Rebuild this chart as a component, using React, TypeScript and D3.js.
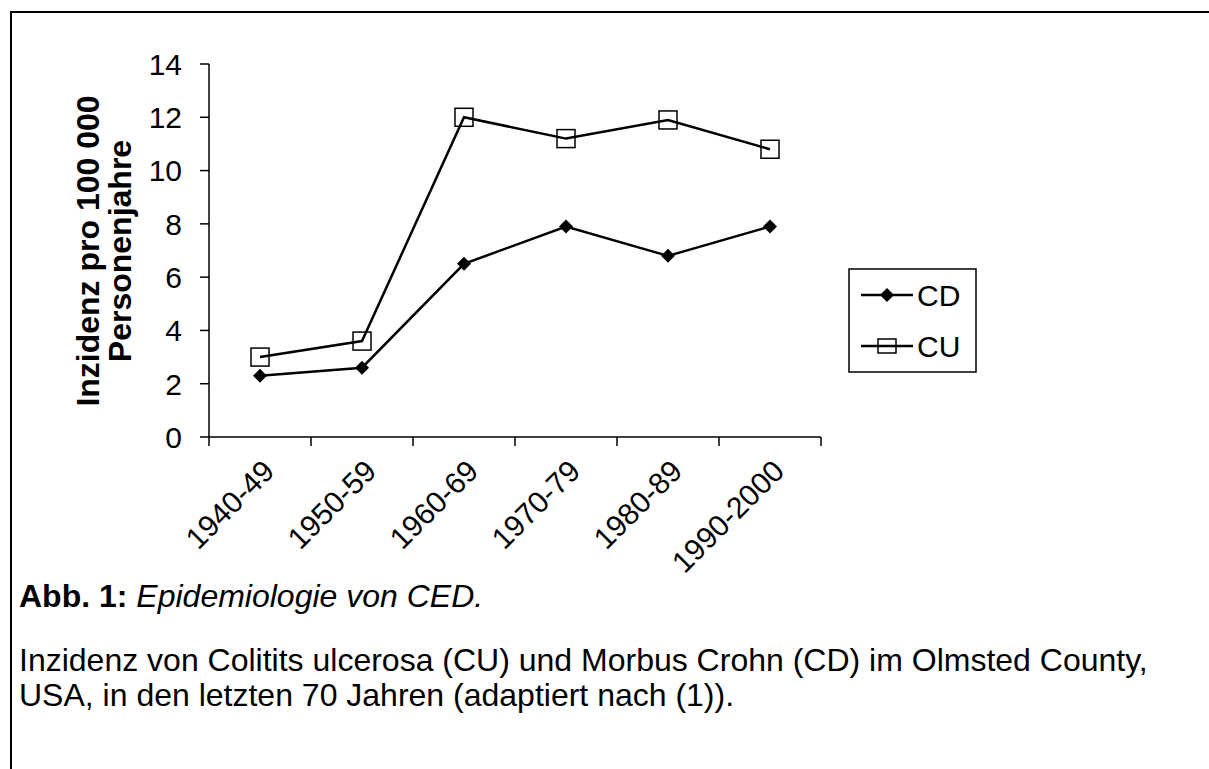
import React from "react";
import * as d3 from "d3";

const categories = ["1940-49", "1950-59", "1960-69", "1970-79", "1980-89", "1990-2000"];
const cdValues = [2.3, 2.6, 6.5, 7.9, 6.8, 7.9];
const cuValues = [3.0, 3.6, 12.0, 11.2, 11.9, 10.8];
const yTicks = [0, 2, 4, 6, 8, 10, 12, 14];
const seriesNames = ["CD", "CU"];

const W = 1209;
const H = 769;
const FONT = "Arial, 'Liberation Sans', sans-serif";

export default function App() {
  const x = d3.scaleBand<string>().domain(categories).range([209, 821]).padding(0);
  const y = d3.scaleLinear().domain([0, 14]).range([437, 64]);
  const cx = (c: string) => (x(c) as number) + x.bandwidth() / 2;

  const line = d3
    .line<number>()
    .x((_, i) => cx(categories[i]))
    .y((d) => y(d));

  const diamond = (px: number, py: number, r = 7) =>
    `M${px},${py - r}L${px + r},${py}L${px},${py + r}L${px - r},${py}Z`;

  const xTickPositions = categories.map((c) => x(c) as number).concat([821]);
  const sq = 18;

  return (
    <svg
      width={W}
      height={H}
      style={{ position: "absolute", left: 0, top: 0, background: "#fff" }}
      fontFamily={FONT}
    >
      {/* frame */}
      <path d={`M11,${H}L11,12L${W},12`} fill="none" stroke="#000" strokeWidth={2} />

      {/* y axis */}
      <line x1={209} x2={209} y1={y(14)} y2={y(0)} stroke="#000" strokeWidth={1.5} />
      {yTicks.map((t) => (
        <g key={t}>
          <line x1={200} x2={209} y1={y(t)} y2={y(t)} stroke="#000" strokeWidth={1.5} />
          <text x={182} y={y(t)} dy="0.36em" textAnchor="end" fontSize={30}>
            {t}
          </text>
        </g>
      ))}

      {/* x axis */}
      <line x1={209} x2={821} y1={y(0)} y2={y(0)} stroke="#000" strokeWidth={1.5} />
      {xTickPositions.map((p, i) => (
        <line key={i} x1={p} x2={p} y1={y(0)} y2={y(0) + 9} stroke="#000" strokeWidth={1.5} />
      ))}
      {categories.map((c) => (
        <text
          key={c}
          transform={`translate(${cx(c) + 16},${y(0) + 36}) rotate(-45)`}
          textAnchor="end"
          fontSize={30}
        >
          {c}
        </text>
      ))}

      {/* y label */}
      <text transform="translate(99,251) rotate(-90)" textAnchor="middle" fontSize={32} fontWeight="bold">
        Inzidenz pro 100 000
      </text>
      <text transform="translate(131,251) rotate(-90)" textAnchor="middle" fontSize={32} fontWeight="bold">
        Personenjahre
      </text>

      {/* lines */}
      <path d={line(cdValues) as string} fill="none" stroke="#000" strokeWidth={2.5} />
      <path d={line(cuValues) as string} fill="none" stroke="#000" strokeWidth={2.5} />
      {cdValues.map((v, i) => (
        <path key={i} d={diamond(cx(categories[i]), y(v))} fill="#000" />
      ))}
      {cuValues.map((v, i) => (
        <rect
          key={i}
          x={cx(categories[i]) - sq / 2}
          y={y(v) - sq / 2}
          width={sq}
          height={sq}
          fill="none"
          stroke="#000"
          strokeWidth={1.5}
        />
      ))}

      {/* legend */}
      <rect x={849} y={269} width={127} height={103} fill="#fff" stroke="#000" strokeWidth={1.5} />
      {seriesNames.map((n, i) => {
        const ly = 295 + i * 51;
        return (
          <g key={n}>
            <line x1={861} x2={913} y1={ly} y2={ly} stroke="#000" strokeWidth={2.5} />
            {i === 0 ? (
              <path d={diamond(887, ly)} fill="#000" />
            ) : (
              <rect x={887 - sq / 2} y={ly - sq / 2 + 2} width={sq} height={sq - 4} fill="none" stroke="#000" strokeWidth={1.5} />
            )}
            <text x={917} y={ly} dy="0.36em" fontSize={30}>
              {n}
            </text>
          </g>
        );
      })}

      {/* caption */}
      <text x={19} y={607} fontSize={32}>
        <tspan fontWeight="bold">Abb. 1:</tspan>
        <tspan fontStyle="italic"> Epidemiologie von CED.</tspan>
      </text>
      <text x={19} y={671} fontSize={32}>
        Inzidenz von Colitits ulcerosa (CU) und Morbus Crohn (CD) im Olmsted County,
      </text>
      <text x={19} y={706} fontSize={32}>
        USA, in den letzten 70 Jahren (adaptiert nach (1)).
      </text>
    </svg>
  );
}
